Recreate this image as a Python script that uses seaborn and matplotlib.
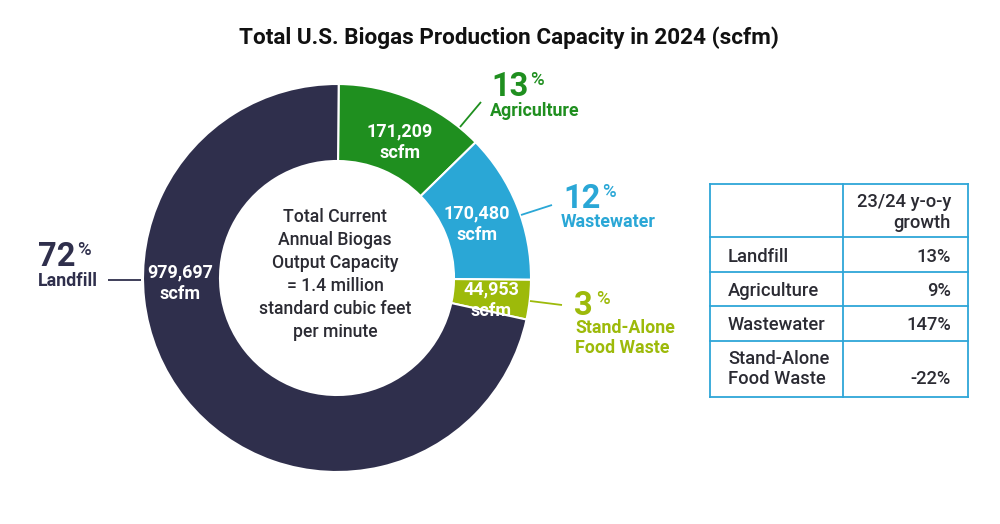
import matplotlib
matplotlib.use("Agg")
import matplotlib.pyplot as plt
import seaborn as sns

sns.set_theme(style="white")
plt.rcParams['font.family'] = ['Roboto', 'DejaVu Sans']

# --- data ---
segments = ["Agriculture", "Wastewater", "Stand-Alone\nFood Waste", "Landfill"]
capacity = [171209, 170480, 44953, 979697]
shares = [13, 12, 3, 72]
colors = ["#1f8f1f", "#2aa7d6", "#9dba0a", "#2f2f4c"]
title = "Total U.S. Biogas Production Capacity in 2024 (scfm)"
center_text = ("Total Current\nAnnual Biogas\nOutput Capacity\n= 1.4 million\n"
               "standard cubic feet\nper minute")
table_header = "23/24 y-o-y\ngrowth"
table_rows = ["Landfill", "Agriculture", "Wastewater", "Stand-Alone\nFood Waste"]
table_growth = ["13%", "9%", "147%", "-22%"]

W, H = 1000, 524
fig = plt.figure(figsize=(W / 100, H / 100), dpi=100, facecolor="white")

# donut
cx, cy, R = 337, 278, 194
ax = fig.add_axes([(cx - R) / W, 1 - (cy + R) / H, 2 * R / W, 2 * R / H])
ax.pie(capacity, colors=colors, startangle=89.5, counterclock=False, radius=1,
       wedgeprops=dict(width=1 - 117 / 194, edgecolor="white", linewidth=1.5))
ax.set_xlim(-1, 1)
ax.set_ylim(-1, 1)

# overlay in pixel coordinates
ov = fig.add_axes([0, 0, 1, 1], facecolor="none")
ov.set_xlim(0, W)
ov.set_ylim(H, 0)
ov.axis("off")

dark = "#2b2b33"
ov.text(509, 38, title, ha="center", va="center", fontsize=16.2, fontweight="bold", color="#111111")
ov.text(335, 274.5, center_text, ha="center", va="center", fontsize=12.7, fontweight="medium",
        color=dark, linespacing=1.37)

# values on the ring
fmt = [f"{v:,}\nscfm" for v in capacity]
value_pos = [(400, 142.5), (477, 224.5), (491, 300.5), (180, 283)]
for (x, y), s in zip(value_pos, fmt):
    ov.text(x, y, s, ha="center", va="center", fontsize=13, fontweight="bold", color="white",
            linespacing=1.26)

# callouts
num_pos = [(491, 87), (563, 199), (574, 306), (38, 257)]
name_pos = [(490, 110.5), (561, 222), (575, 338), (38, 281)]
pct_off = [39, 39, 22, 39]
lead = [((460, 127), (481, 102)), ((521, 215), (552, 205)), ((530, 301), (562, 305)), ((108, 280), (141, 280))]
for i in range(4):
    c = colors[i]
    ov.text(*num_pos[i], f"{shares[i]}", ha="left", va="center", fontsize=23.5, fontweight="bold", color=c)
    ov.text(num_pos[i][0] + pct_off[i], num_pos[i][1] - 7, "%", ha="left", va="center", fontsize=13.5,
            fontweight="medium", color=c)
    ov.text(*name_pos[i], segments[i], ha="left", va="center", fontsize=12.8, fontweight="bold", color=c,
            linespacing=1.1)
    (x0, y0), (x1, y1) = lead[i]
    ov.plot([x0, x1], [y0, y1], color=c, lw=1.3, solid_capstyle="butt")

# table
tl, tm, tr = 710, 843, 968
ty = [184, 237, 272, 306, 341, 397]
bc = "#2ea6d8"
for y in ty:
    ov.plot([tl, tr], [y, y], color=bc, lw=1.3, solid_capstyle="projecting")
for x in (tl, tm, tr):
    ov.plot([x, x], [ty[0], ty[-1]], color=bc, lw=1.3, solid_capstyle="projecting")
ov.text(951, 212.5, table_header, ha="right", va="center", multialignment="right", fontsize=13.2,
        fontweight="medium", color=dark, linespacing=1.25)
for i in range(4):
    ym = (ty[i + 1] + ty[i + 2]) / 2 + 2
    if i == 3:
        ym = 369
    ov.text(728, ym, table_rows[i], ha="left", va="center", fontsize=13.2, fontweight="medium",
            color=dark, linespacing=1.1)
    ov.text(951, ym if i < 3 else 379, table_growth[i], ha="right", va="center", fontsize=13.2,
            fontweight="medium", color=dark)

fig.savefig("out.png", dpi=100, facecolor="white")
